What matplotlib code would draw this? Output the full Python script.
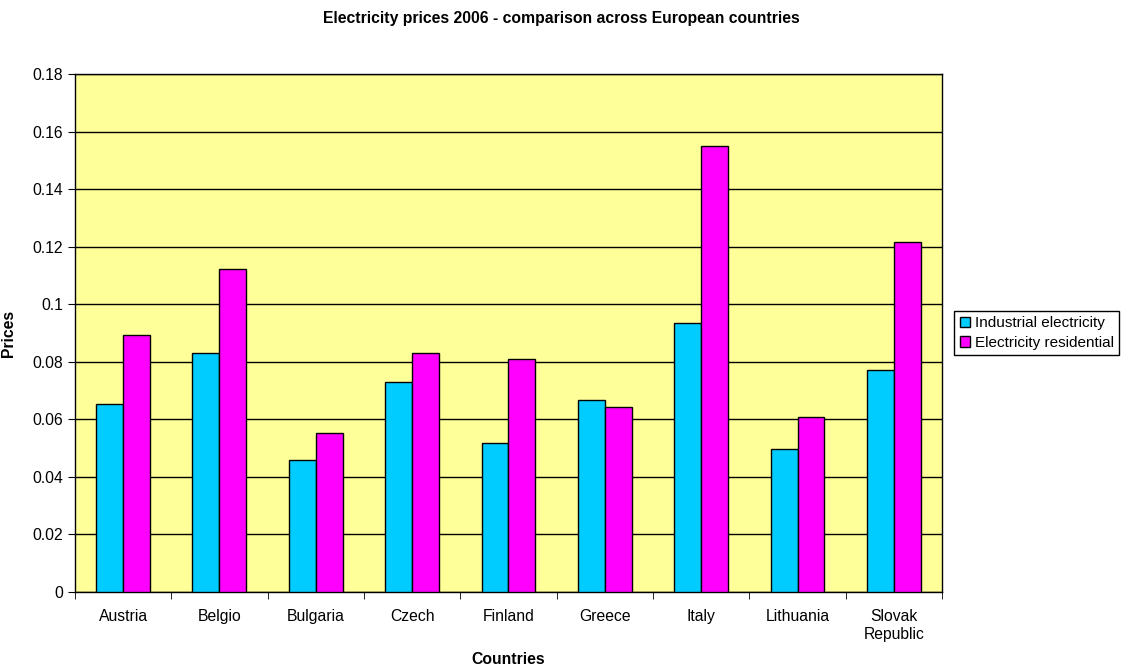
import numpy as np
import matplotlib.pyplot as plt

plt.rcParams['font.family'] = ['Liberation Sans', 'DejaVu Sans']

countries = ["Austria", "Belgio", "Bulgaria", "Czech", "Finland",
             "Greece", "Italy", "Lithuania", "Slovak\nRepublic"]
industrial = [0.0653, 0.0830, 0.0460, 0.0730, 0.0517, 0.0667, 0.0935, 0.0497, 0.0772]
residential = [0.0895, 0.1123, 0.0552, 0.0830, 0.0810, 0.0643, 0.1550, 0.0608, 0.1217]

fig = plt.figure(figsize=(11.22, 6.68), dpi=100)
ax = fig.add_axes([0.0668, 0.1138, 0.7728, 0.7752])
ax.set_facecolor("#FFFF99")

x = np.arange(len(countries))
w = 0.28
ax.bar(x - w / 2, industrial, w, color="#00CCFF", edgecolor="black", linewidth=1,
       label="Industrial electricity", zorder=3)
ax.bar(x + w / 2, residential, w, color="#FF00FF", edgecolor="black", linewidth=1,
       label="Electricity residential", zorder=3)

ax.set_xlim(-0.5, len(countries) - 0.5)
ax.set_ylim(0, 0.18)
ax.set_yticks(np.arange(0, 0.181, 0.02))
ax.set_yticklabels(["0", "0.02", "0.04", "0.06", "0.08", "0.1", "0.12", "0.14", "0.16", "0.18"])
ax.yaxis.grid(True, color="black", linewidth=1, zorder=1)
ax.set_axisbelow(True)

ax.set_xticks(x)
ax.set_xticklabels(countries, linespacing=1.3)
ax.set_xticks(np.arange(-0.5, len(countries), 1), minor=True)
ax.tick_params(axis="x", which="major", length=0, pad=12, labelsize=11.3)
ax.tick_params(axis="x", which="minor", length=5, direction="out")
ax.tick_params(axis="y", length=5, direction="out", labelsize=11.3)
for s in ax.spines.values():
    s.set_linewidth(1)

ax.set_ylabel("Prices", fontsize=11.3, fontweight="bold", labelpad=12)
fig.text(0.5 * (0.0668 + 0.8396), 1 - 659 / 668, "Countries",
         ha="center", va="center", fontsize=11.3, fontweight="bold")
fig.text(0.5, 1 - 19 / 668, "Electricity prices 2006 - comparison across European countries",
         ha="center", va="center", fontsize=11.3, fontweight="bold")

ax.legend(loc="center left", bbox_to_anchor=(1.014, 0.5), frameon=True, fancybox=False,
          edgecolor="black", framealpha=1, fontsize=11, handlelength=0.7,
          handleheight=0.7, handletextpad=0.3, borderpad=0.35, labelspacing=0.35,
          borderaxespad=0)

fig.savefig("out.png", dpi=100)
